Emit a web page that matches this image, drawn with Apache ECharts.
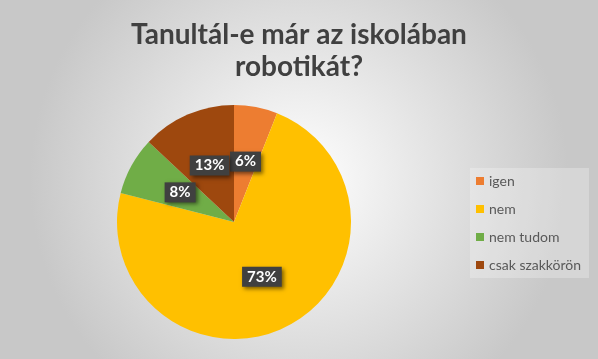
<!DOCTYPE html>
<html>
<head>
<meta charset="utf-8">
<script src="https://cdn.jsdelivr.net/npm/echarts@6/dist/echarts.min.js"></script>
<style>
html,body{margin:0;padding:0;}
#c{width:598px;height:359px;}
</style>
</head>
<body>
<div id="c"></div>
<script>
const categories = ['igen', 'nem', 'nem tudom', 'csak szakkörön'];
const values = [6, 73, 8, 13];
const colors = ['#ED7D31', '#FFC000', '#70AD47', '#9E480E'];
const titleText = 'Tanultál-e már az iskolában\nrobotikát?';

const chart = echarts.init(document.getElementById('c'));
chart.setOption({
  backgroundColor: {
    type: 'radial', x: 0.5, y: 0.5, r: 0.75,
    colorStops: [{offset: 0, color: '#ffffff'}, {offset: 1, color: '#c8c8c8'}]
  },
  title: {
    text: titleText,
    left: 'center',
    top: 14,
    textStyle: {
      fontFamily: 'Lato', fontWeight: 'bold', fontSize: 28,
      color: '#404040', lineHeight: 32
    }
  },
  legend: {
    orient: 'vertical',
    left: 470, top: 168,
    itemWidth: 8, itemHeight: 8,
    itemGap: 14,
    padding: [6, 8, 6, 6],
    backgroundColor: 'rgba(255,255,255,0.25)',
    icon: 'rect',
    textStyle: {fontFamily: 'Lato', fontSize: 14, color: '#595959'},
    data: categories
  },
  series: [{
    type: 'pie',
    center: [234, 222],
    radius: 117,
    startAngle: 90,
    clockwise: true,
    animation: false,
    data: categories.map((c, i) => ({name: c, value: values[i], itemStyle: {color: colors[i]}})),
    label: {
      show: true,
      position: 'inside',
      formatter: p => p.value + '%',
      color: '#ffffff',
      fontFamily: 'Lato', fontWeight: 'bold', fontSize: 15,
      backgroundColor: '#404040',
      padding: [3, 5, 2, 5],
      shadowColor: 'rgba(0,0,0,0.5)', shadowBlur: 4, shadowOffsetX: 2, shadowOffsetY: 2
    },
    labelLine: {show: false},
    emphasis: {disabled: true}
  }]
});
</script>
</body>
</html>
